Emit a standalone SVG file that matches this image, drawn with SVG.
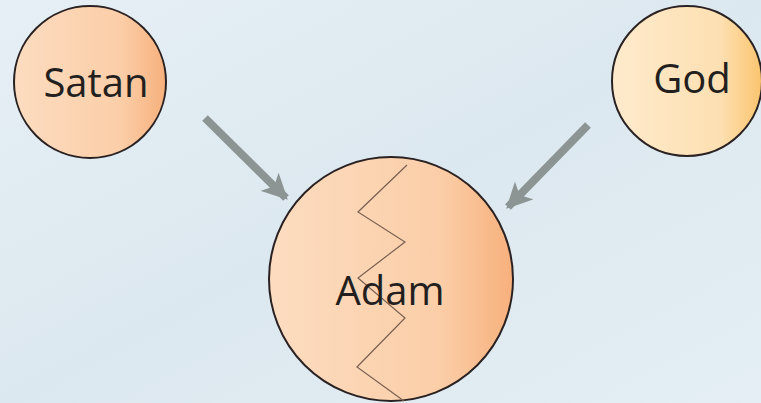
<svg xmlns="http://www.w3.org/2000/svg" width="761" height="403" viewBox="0 0 761 403">
<defs>
<linearGradient id="bg" x1="0" y1="0" x2="1" y2="1">
<stop offset="0" stop-color="#e6eff5"/>
<stop offset="0.5" stop-color="#dce8ef"/>
<stop offset="1" stop-color="#e4eef4"/>
</linearGradient>
<linearGradient id="peach" x1="0" y1="0" x2="1" y2="0">
<stop offset="0" stop-color="#fcdcc0"/>
<stop offset="0.7" stop-color="#fbcea8"/>
<stop offset="1" stop-color="#f7b07c"/>
</linearGradient>
<linearGradient id="gold" x1="0" y1="0" x2="1" y2="0">
<stop offset="0" stop-color="#feeacc"/>
<stop offset="0.72" stop-color="#fde0b2"/>
<stop offset="1" stop-color="#fbc46e"/>
</linearGradient>
<marker id="ah" viewBox="0 0 10 10" refX="9" refY="5" markerWidth="3.2" markerHeight="3.2" orient="auto" markerUnits="strokeWidth">
<path d="M0,0 L10,5 L0,10 L2.5,5 Z" fill="#8c9494"/>
</marker>
<style>
.node{stroke:#2a2222;stroke-width:2}
.lbl{font-family:"Open Sans","Noto Sans","Liberation Sans",sans-serif;fill:#231f1f;text-anchor:middle}
.conn{stroke:#8c9494;stroke-width:8;fill:none;marker-end:url(#ah)}
.crack{stroke:#7a6050;stroke-width:1.2;fill:none}
</style>
</defs>
<rect width="761" height="403" fill="url(#bg)"/>
<g id="connectors">
<line class="conn" x1="205" y1="118" x2="286" y2="198"/>
<line class="conn" x1="588" y1="125" x2="508" y2="207"/>
</g>
<g id="satan">
<circle class="node" cx="90" cy="82" r="76" fill="url(#peach)"/>
<text class="lbl" x="96" y="97" font-size="40">Satan</text>
</g>
<g id="god">
<circle class="node" cx="687" cy="81" r="75" fill="url(#gold)"/>
<text class="lbl" x="692" y="93" font-size="40">God</text>
</g>
<g id="adam">
<circle class="node" cx="391" cy="279" r="122" fill="url(#peach)"/>
<polyline class="crack" points="407,165 358,212 405,242 358,278 405,318 357,367 404,401"/>
<text class="lbl" x="390" y="305" font-size="40">Adam</text>
</g>
</svg>
